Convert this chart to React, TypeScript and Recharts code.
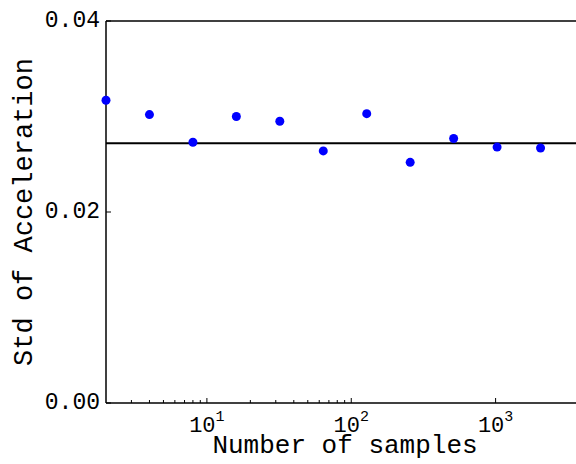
import React from "react";
import { ScatterChart, Scatter, XAxis, YAxis, ReferenceLine } from "recharts";

// sample counts and the std measured at each one
const sampleCounts = [2, 4, 8, 16, 32, 64, 128, 256, 512, 1024, 2048];
const stdValues = [0.0317, 0.0302, 0.0273, 0.03, 0.0295, 0.0264, 0.0303, 0.0252, 0.0277, 0.0268, 0.0267];
const meanStd = 0.0272;

const xMajorTicks = [10, 100, 1000];
const xTicks = [3, 4, 5, 6, 7, 8, 9, 10, 20, 30, 40, 50, 60, 70, 80, 90, 100, 1000];
const yTicks = [0, 0.02, 0.04];

const FONT = "'Liberation Mono', 'DejaVu Sans Mono', monospace";

const data = sampleCounts.map((n, i) => ({ n, std: stdValues[i] }));

const BottomTick = (props: any) => {
  const { x, y, payload } = props;
  const major = xMajorTicks.includes(payload.value);
  const exp = Math.round(Math.log10(payload.value));
  return (
    <g>
      <line x1={x} x2={x} y1={y} y2={y - (major ? 5 : 3)} stroke="#000" strokeWidth={1} />
      {major && (
        <text x={x} y={y + 29} textAnchor="middle" fontFamily={FONT} fontSize={22} fill="#000">
          10
          <tspan dy={-11} fontSize={15}>{exp}</tspan>
        </text>
      )}
    </g>
  );
};

const TopTick = (props: any) => {
  const { x, y, payload } = props;
  const major = xMajorTicks.includes(payload.value);
  return <line x1={x} x2={x} y1={y} y2={y + (major ? 5 : 3)} stroke="#000" strokeWidth={1} />;
};

const LeftTick = (props: any) => {
  const { x, y, payload } = props;
  return (
    <g>
      <line x1={x} x2={x + 5} y1={y} y2={y} stroke="#000" strokeWidth={1} />
      <text x={x - 6} y={y} textAnchor="end" dominantBaseline="central" fontFamily={FONT} fontSize={23} fill="#000">
        {payload.value.toFixed(2)}
      </text>
    </g>
  );
};

export default function App() {
  return (
    <div style={{ position: "absolute", left: 0, top: 0, width: 576, height: 464, overflow: "hidden", background: "#fff" }}>
      <ScatterChart width={584} height={464} margin={{ top: 20, right: 0, bottom: 0, left: 0 }}>
        <XAxis
          dataKey="n"
          type="number"
          scale="log"
          domain={[2, 4096]}
          ticks={xTicks}
          interval={0}
          height={61}
          tickSize={0}
          tickMargin={0}
          tick={<BottomTick />}
          axisLine={{ stroke: "#000", strokeWidth: 1.5 }}
          label={{
            content: (p: any) => (
              <text
                x={p.viewBox.x + p.viewBox.width / 2}
                y={p.viewBox.y + 50}
                textAnchor="middle"
                fontFamily={FONT}
                fontSize={26}
                fill="#000"
              >
                Number of samples
              </text>
            ),
          }}
        />
        <XAxis
          xAxisId="top"
          orientation="top"
          dataKey="n"
          type="number"
          scale="log"
          domain={[2, 4096]}
          ticks={xTicks}
          interval={0}
          height={1}
          tickSize={0}
          tickMargin={0}
          tick={<TopTick />}
          axisLine={{ stroke: "#000", strokeWidth: 1.5 }}
        />
        <YAxis
          dataKey="std"
          type="number"
          domain={[0, 0.04]}
          ticks={yTicks}
          interval={0}
          width={106}
          tickSize={0}
          tickMargin={0}
          tick={<LeftTick />}
          axisLine={{ stroke: "#000", strokeWidth: 1.5 }}
          label={{
            content: (p: any) => {
              const cx = p.viewBox.x + 25;
              const cy = p.viewBox.y + p.viewBox.height / 2;
              return (
                <text
                  x={cx}
                  y={cy}
                  transform={`rotate(-90 ${cx} ${cy})`}
                  textAnchor="middle"
                  dominantBaseline="central"
                  fontFamily={FONT}
                  fontSize={27}
                  fill="#000"
                >
                  Std of Acceleration
                </text>
              );
            },
          }}
        />
        <ReferenceLine y={meanStd} stroke="#000" strokeWidth={2} />
        <Scatter data={data} fill="#0000ff" isAnimationActive={false} shape={(p: any) => <circle cx={p.cx} cy={p.cy} r={4.5} fill="#0000ff" />} />
      </ScatterChart>
    </div>
  );
}
